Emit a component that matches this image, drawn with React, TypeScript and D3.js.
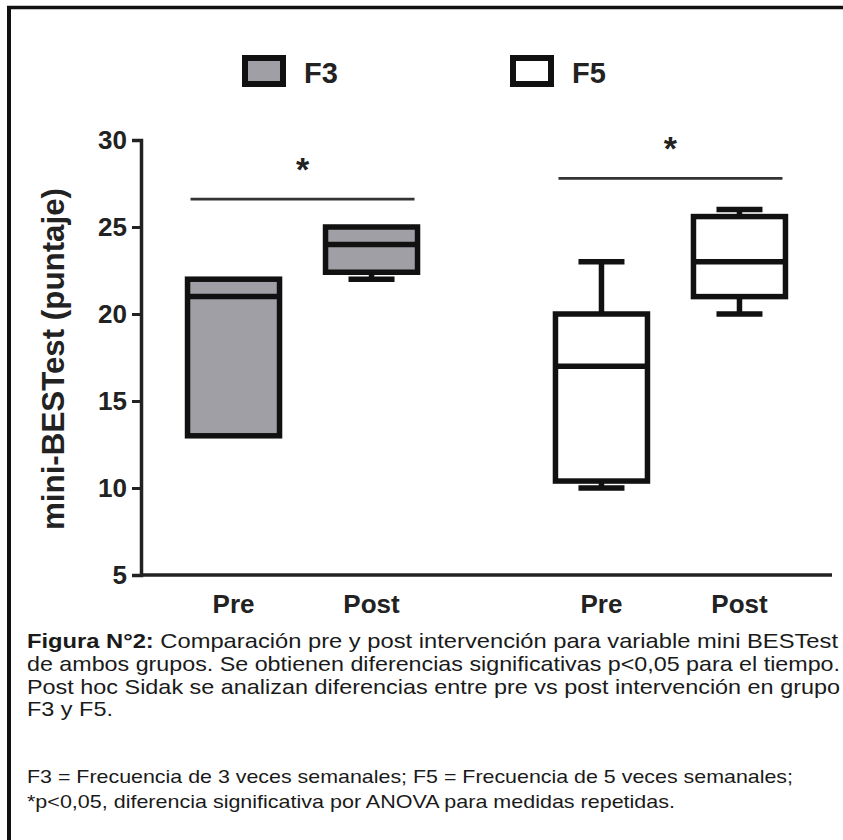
import React, { useEffect, useRef } from 'react';
import * as d3 from 'd3';

const groups = ['F3', 'F5'];
const times = ['Pre', 'Post'];
const boxGroup = ['F3', 'F3', 'F5', 'F5'];
const boxTime = ['Pre', 'Post', 'Pre', 'Post'];
const minValues = [13, 22, 10, 20];
const q1Values = [13, 22.4, 10.4, 21];
const medianValues = [21, 24, 17, 23];
const q3Values = [22, 25, 20, 25.6];
const maxValues = [22, 25, 23, 26];
const groupFills = ['#a09fa6', '#ffffff'];
const sigLevels = [26.6, 27.8];
const sigMarks = ['*', '*'];
const yTicks = [5, 10, 15, 20, 25, 30];
const yLabel = 'mini-BESTest (puntaje)';
const captionBold = 'Figura N°2:';
const captionLines = [
  ' Comparación pre y post intervención para variable mini BESTest',
  'de ambos grupos. Se obtienen diferencias significativas p<0,05 para el tiempo.',
  'Post hoc Sidak se analizan diferencias entre pre vs post intervención en grupo',
  'F3 y F5.',
];
const footLines = [
  'F3 = Frecuencia de 3 veces semanales; F5 = Frecuencia de 5 veces semanales;',
  '*p<0,05, diferencia significativa por ANOVA para medidas repetidas.',
];

const W = 843;
const H = 840;
const FONT = "'Liberation Sans', Arial, sans-serif";

export default function App() {
  const axisRef = useRef<SVGGElement>(null);

  const x0 = d3.scalePoint<string>().domain(groups).range([141, 832]).padding(0.439);
  const x1 = d3.scaleBand<string>().domain(times).range([-138, 138]).paddingInner(1 / 3).paddingOuter(1 / 6);
  const bw = x1.bandwidth();
  const y = d3.scaleLinear().domain([5, 30]).range([575, 140]);

  useEffect(() => {
    if (!axisRef.current) return;
    const g = d3.select(axisRef.current);
    g.selectAll('*').remove();
    g.call(d3.axisLeft(y).tickValues(yTicks).tickSize(9).tickPadding(5).tickFormat(d3.format('d')));
    g.select('.domain').attr('stroke', '#222').attr('stroke-width', 3.5);
    g.selectAll('.tick line').attr('stroke', '#222').attr('stroke-width', 3);
    g.selectAll('.tick text')
      .attr('fill', '#222')
      .attr('font-size', 26)
      .attr('font-weight', 'bold')
      .attr('font-family', FONT);
  }, []);

  const lineHeights = [648, 671, 693.5, 716];
  const lineLengths = [811, 813, 813, 86];
  const footLengths = [766, 648];

  return (
    <svg width={W} height={H} style={{ position: 'absolute', left: 0, top: 0, background: '#fff' }} fontFamily={FONT}>
      <rect x={0} y={0} width={W} height={H} fill="#fff" />
      {/* frame */}
      <line x1={7} x2={W} y1={7.5} y2={7.5} stroke="#111" strokeWidth={3.5} />
      <line x1={9} x2={9} y1={6} y2={H} stroke="#111" strokeWidth={4} />

      {/* legend */}
      {groups.map((g, i) => (
        <g key={g} transform={`translate(${i === 0 ? 245 : 513},58)`}>
          <rect x={0} y={0} width={38} height={26} fill={groupFills[i]} stroke="#111" strokeWidth={6} />
          <text x={59} y={25} fontSize={29} fontWeight="bold" fill="#222">{g}</text>
        </g>
      ))}

      {/* axes */}
      <g ref={axisRef} transform="translate(141,0)" />
      <line x1={141} x2={832} y1={y(5)} y2={y(5)} stroke="#222" strokeWidth={3.5} />
      {boxGroup.map((g, i) => (
        <text key={'xl' + i} x={(x0(g) as number) + (x1(boxTime[i]) as number) + bw / 2} y={613}
          textAnchor="middle" fontSize={26} fontWeight="bold" fill="#222">{boxTime[i]}</text>
      ))}
      <text transform="translate(64,359) rotate(-90)" textAnchor="middle" fontSize={31} fontWeight="bold"
        fill="#222" textLength={342} lengthAdjust="spacingAndGlyphs">{yLabel}</text>

      {/* boxes */}
      {boxGroup.map((g, i) => {
        const left = (x0(g) as number) + (x1(boxTime[i]) as number);
        const cx = left + bw / 2;
        const fill = groupFills[groups.indexOf(g)];
        const sw = 5.5;
        return (
          <g key={'b' + i} stroke="#111" strokeWidth={sw}>
            {maxValues[i] > q3Values[i] && (
              <>
                <line x1={cx} x2={cx} y1={y(q3Values[i])} y2={y(maxValues[i])} />
                <line x1={cx - bw / 4} x2={cx + bw / 4} y1={y(maxValues[i])} y2={y(maxValues[i])} />
              </>
            )}
            {minValues[i] < q1Values[i] && (
              <>
                <line x1={cx} x2={cx} y1={y(q1Values[i])} y2={y(minValues[i])} />
                <line x1={cx - bw / 4} x2={cx + bw / 4} y1={y(minValues[i])} y2={y(minValues[i])} />
              </>
            )}
            <rect x={left} y={y(q3Values[i])} width={bw} height={y(q1Values[i]) - y(q3Values[i])} fill={fill} />
            <line x1={left} x2={left + bw} y1={y(medianValues[i])} y2={y(medianValues[i])} />
          </g>
        );
      })}

      {/* significance */}
      {groups.map((g, i) => {
        const gx = x0(g) as number;
        const xa = gx + (x1('Pre') as number) + 3;
        const xb = gx + (x1('Post') as number) + bw - 3;
        const ly = y(sigLevels[i]);
        return (
          <g key={'s' + i}>
            <line x1={xa} x2={xb} y1={ly} y2={ly} stroke="#333" strokeWidth={2.8} />
            <text x={gx} y={ly - 18} textAnchor="middle" fontSize={34} fontWeight="bold" fill="#222">{sigMarks[i]}</text>
          </g>
        );
      })}

      {/* caption */}
      {captionLines.map((t, i) => (
        <text key={'c' + i} x={27} y={lineHeights[i]} fontSize={21} fill="#1a1a1a"
          textLength={lineLengths[i]} lengthAdjust="spacingAndGlyphs">
          {i === 0 && <tspan fontWeight="bold">{captionBold}</tspan>}
          {t}
        </text>
      ))}
      {footLines.map((t, i) => (
        <text key={'f' + i} x={27} y={i === 0 ? 783 : 808} fontSize={19} fill="#1a1a1a"
          textLength={footLengths[i]} lengthAdjust="spacingAndGlyphs">{t}</text>
      ))}
    </svg>
  );
}
